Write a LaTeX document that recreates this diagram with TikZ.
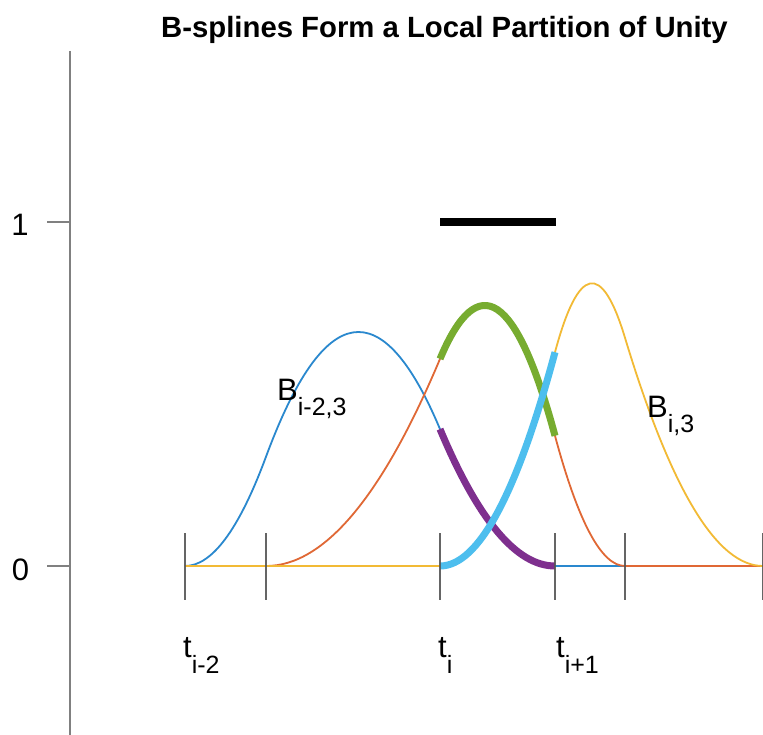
\documentclass[tikz,border=0pt]{standalone}
\usepackage{fontspec}
\setmainfont{Liberation Sans}
\definecolor{cb}{HTML}{2A88CE}
\definecolor{co}{HTML}{E06835}
\definecolor{cy}{HTML}{F2BA35}
\definecolor{cpurple}{HTML}{7E2F8E}
\definecolor{cgreen}{HTML}{77AC30}
\definecolor{ccyan}{HTML}{4DBEEE}
\definecolor{axisgray}{HTML}{808080}
\definecolor{knotgray}{HTML}{555555}
\newcommand\mysub[1]{\raisebox{-15pt}{\fontsize{25}{25}\selectfont #1}}
\newcommand\mytsub[1]{\raisebox{-16pt}{\fontsize{25}{25}\selectfont #1}}
\begin{document}
\begin{tikzpicture}[x=1pt,y=-1pt,
  thinline/.style={line width=1.8pt},
  thickseg/.style={line width=7pt},
  axisline/.style={draw=axisgray,line width=2.8pt},
  knotline/.style={draw=knotgray,line width=2.6pt,opacity=0.9},
  lab/.style={inner sep=0pt,anchor=base west,font=\fontsize{31}{31}\selectfont}]
\useasboundingbox (0,0) rectangle (763,735);
\fill[white] (0,0) rectangle (763,735);

% title
\node[inner sep=0pt,anchor=base,font=\bfseries\fontsize{29.3}{29.3}\selectfont] (title) at (444.5,38) {B-splines Form a Local Partition of Unity};

% axis
\draw[axisline] (70,51) -- (70,735);
\draw[axisline] (47,222) -- (70,222);
\draw[axisline] (47,566) -- (70,566);
\node[inner sep=0pt,anchor=base,font=\fontsize{31}{31}\selectfont] (one) at (20,236) {1};
\node[inner sep=0pt,anchor=base,font=\fontsize{31}{31}\selectfont] (zero) at (20.5,580) {0};

% thin full curves
\draw[cb,thinline] (185,566) .. controls (212,566) and (239,529.6) .. (266,456.7)
  .. controls (324,300.2) and (382,291.0) .. (440,429.1)
  .. controls (478.33,520.4) and (516.67,566) .. (555,566) -- (763,566);
\draw[co,thinline] (185,566) -- (266,566) .. controls (324,566) and (382,497.0) .. (440,358.9)
  .. controls (478.33,267.6) and (516.67,293.3) .. (555,435.8)
  .. controls (578.33,522.6) and (601.67,566) .. (625,566) -- (763,566);
\draw[cy,thinline] (185,566) -- (440,566) .. controls (478.33,566) and (516.67,494.7) .. (555,352.2)
  .. controls (578.33,265.4) and (601.67,260.6) .. (625,337.8)
  .. controls (671,489.9) and (717,566) .. (763,566);

% thick segments on [t_i, t_{i+1}]
\draw[cpurple,thickseg] (440,429.1) .. controls (478.33,520.4) and (516.67,566) .. (555,566);
\draw[cgreen,thickseg] (440,358.9) .. controls (478.33,267.6) and (516.67,293.3) .. (555,435.8);
\draw[ccyan,thickseg] (440,566) .. controls (478.33,566) and (516.67,494.7) .. (555,352.2);
\draw[black,line width=8.5pt] (440,222) -- (556,222);

% knots
\foreach \x in {185,266,440,555,625,763} \draw[knotline] (\x,533) -- (\x,600);

% labels
\node[lab] (bim2) at (277,400) {B\mysub{i-2,3}};
\node[lab] (bi) at (647,417) {B\mysub{i,3}};
\node[lab] (tim2) at (183,657) {t\mytsub{i-2}};
\node[lab] (ti) at (438,657) {t\mytsub{i}};
\node[lab] (tip1) at (556,657) {t\mytsub{i+1}};
\end{tikzpicture}
\end{document}
